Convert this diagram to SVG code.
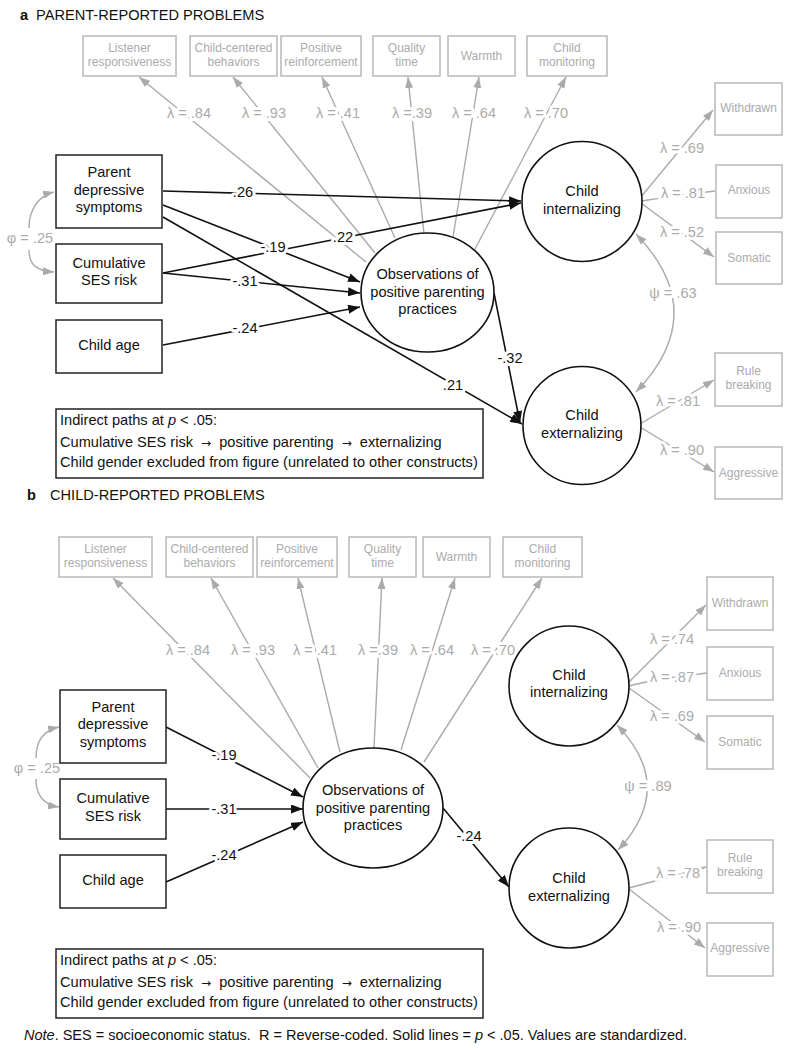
<svg xmlns="http://www.w3.org/2000/svg" width="791" height="1050" viewBox="0 0 791 1050">
<style>
text{font-family:"Liberation Sans",Arial,sans-serif}
.title{font-size:14.6px;fill:#111}
.gbox{fill:#fff;stroke:#b8b8b8;stroke-width:1.5}
.gtxt{font-size:12px;fill:#ababab;text-anchor:middle}
.glbl{font-size:14.6px;fill:#ababab;text-anchor:middle;stroke:#fff;stroke-width:6;paint-order:stroke;stroke-linejoin:round}
.bbox{fill:#fff;stroke:#222;stroke-width:1.5}
.lat{fill:#fff;stroke:#111;stroke-width:1.6}
.btxt{font-size:14.6px;fill:#111;text-anchor:middle}
.blbl{font-size:14.6px;fill:#111;text-anchor:middle;stroke:#fff;stroke-width:6;paint-order:stroke;stroke-linejoin:round}
.gl{stroke:#aaa;stroke-width:1.4;fill:none}
.bl{stroke:#111;stroke-width:1.6;fill:none}
.ind{font-size:14.6px;fill:#111}
.arr{font-size:12px;font-family:"DejaVu Sans",sans-serif}
</style>
<defs>
<marker id="ab" viewBox="0 0 12 9" refX="12" refY="4.5" markerWidth="12" markerHeight="9" orient="auto-start-reverse" markerUnits="userSpaceOnUse"><path d="M0,0 L12,4.5 L0,9 z" fill="#111"/></marker>
<marker id="ag" viewBox="0 0 11 8" refX="11" refY="4" markerWidth="11" markerHeight="8" orient="auto-start-reverse" markerUnits="userSpaceOnUse"><path d="M0,0 L11,4 L0,8 z" fill="#aaa"/></marker>
</defs>
<rect width="791" height="1050" fill="#fff"/>

<!-- ================= PANEL A ================= -->
<g id="title-a"><text x="20" y="20" class="title" font-weight="bold">a</text><text x="36" y="20" class="title">PARENT-REPORTED PROBLEMS</text></g>

<g id="connectors-a">
  <line class="gl" x1="366" y1="262" x2="139" y2="77" marker-end="url(#ag)"/>
  <line class="gl" x1="375" y1="253" x2="233" y2="77" marker-end="url(#ag)"/>
  <line class="gl" x1="395" y1="238" x2="322" y2="77" marker-end="url(#ag)"/>
  <line class="gl" x1="424" y1="234" x2="408" y2="77" marker-end="url(#ag)"/>
  <line class="gl" x1="453" y1="237" x2="479" y2="77" marker-end="url(#ag)"/>
  <line class="gl" x1="475" y1="249" x2="566" y2="77" marker-end="url(#ag)"/>
  <line class="gl" x1="640" y1="198" x2="713" y2="110" marker-end="url(#ag)"/>
  <path class="gl" d="M642,201 Q665,197 715,191"/>
  <line class="gl" x1="641" y1="203" x2="714" y2="257" marker-end="url(#ag)"/>
  <path class="gl" d="M636,234 Q712,313 636,392" marker-start="url(#ag)" marker-end="url(#ag)"/>
  <line class="gl" x1="640" y1="424" x2="714" y2="380" marker-end="url(#ag)"/>
  <line class="gl" x1="640" y1="427" x2="714" y2="472" marker-end="url(#ag)"/>
  <path class="gl" d="M29,228 C29,210 38,196 54,192" marker-end="url(#ag)"/>
  <path class="gl" d="M29,250 C29,266 38,271 54,272" marker-end="url(#ag)"/>
  <line class="bl" x1="163" y1="191" x2="521" y2="201" marker-end="url(#ab)"/>
  <line class="bl" x1="163" y1="273" x2="521" y2="203" marker-end="url(#ab)"/>
  <line class="bl" x1="163" y1="205" x2="360" y2="282" marker-end="url(#ab)"/>
  <line class="bl" x1="163" y1="273" x2="360" y2="293" marker-end="url(#ab)"/>
  <line class="bl" x1="163" y1="345" x2="360" y2="307" marker-end="url(#ab)"/>
  <line class="bl" x1="163" y1="217" x2="522" y2="424" marker-end="url(#ab)"/>
  <line class="bl" x1="494" y1="293" x2="520" y2="423" marker-end="url(#ab)"/>
  <text class="glbl" x="189" y="118">λ = .84</text>
  <text class="glbl" x="264" y="118">λ = .93</text>
  <text class="glbl" x="338" y="118">λ = .41</text>
  <text class="glbl" x="412" y="118">λ =.39</text>
  <text class="glbl" x="474" y="118">λ = .64</text>
  <text class="glbl" x="546" y="118">λ = .70</text>
  <text class="glbl" x="682" y="153">λ = .69</text>
  <text class="glbl" x="683" y="198">λ = .81</text>
  <text class="glbl" x="682" y="237">λ = .52</text>
  <text class="glbl" x="673" y="298">ψ = .63</text>
  <text class="glbl" x="678" y="406">λ = .81</text>
  <text class="glbl" x="682" y="455">λ = .90</text>
  <text class="glbl" x="30" y="243">φ = .25</text>
  <text class="blbl" x="243" y="197">.26</text>
  <text class="blbl" x="343" y="242">.22</text>
  <text class="blbl" x="273" y="252">-.19</text>
  <text class="blbl" x="245" y="286">-.31</text>
  <text class="blbl" x="245" y="333">-.24</text>
  <text class="blbl" x="453" y="390">.21</text>
  <text class="blbl" x="510" y="363">-.32</text>
</g>

<g id="a-ind-listener"><rect class="gbox" x="83" y="36" width="93" height="40"/><text class="gtxt" x="129.5" y="52">Listener</text><text class="gtxt" x="129.5" y="66">responsiveness</text></g>
<g id="a-ind-childcentered"><rect class="gbox" x="190" y="36" width="87" height="40"/><text class="gtxt" x="233.5" y="52">Child-centered</text><text class="gtxt" x="233.5" y="66">behaviors</text></g>
<g id="a-ind-posreinf"><rect class="gbox" x="281" y="36" width="80" height="40"/><text class="gtxt" x="321" y="52">Positive</text><text class="gtxt" x="321" y="66">reinforcement</text></g>
<g id="a-ind-quality"><rect class="gbox" x="373" y="36" width="67" height="40"/><text class="gtxt" x="406.5" y="52">Quality</text><text class="gtxt" x="406.5" y="66">time</text></g>
<g id="a-ind-warmth"><rect class="gbox" x="448" y="36" width="67" height="40"/><text class="gtxt" x="481.5" y="60">Warmth</text></g>
<g id="a-ind-monitoring"><rect class="gbox" x="527" y="36" width="80" height="40"/><text class="gtxt" x="567" y="52">Child</text><text class="gtxt" x="567" y="66">monitoring</text></g>

<g id="a-ind-withdrawn"><rect class="gbox" x="715" y="83" width="67" height="52"/><text class="gtxt" x="748.5" y="112">Withdrawn</text></g>
<g id="a-ind-anxious"><rect class="gbox" x="716" y="165" width="66" height="53"/><text class="gtxt" x="749" y="194">Anxious</text></g>
<g id="a-ind-somatic"><rect class="gbox" x="716" y="232" width="66" height="52"/><text class="gtxt" x="749" y="262">Somatic</text></g>
<g id="a-ind-rule"><rect class="gbox" x="715" y="353" width="67" height="53"/><text class="gtxt" x="748.5" y="375">Rule</text><text class="gtxt" x="748.5" y="389">breaking</text></g>
<g id="a-ind-aggressive"><rect class="gbox" x="715" y="447" width="67" height="52"/><text class="gtxt" x="748.5" y="477">Aggressive</text></g>

<g id="a-parent-dep"><rect class="bbox" x="56" y="155" width="106" height="73"/><text class="btxt" x="109" y="177">Parent</text><text class="btxt" x="109" y="195">depressive</text><text class="btxt" x="109" y="212">symptoms</text></g>
<g id="a-ses"><rect class="bbox" x="56" y="244" width="106" height="59"/><text class="btxt" x="109" y="268">Cumulative</text><text class="btxt" x="109" y="285">SES risk</text></g>
<g id="a-age"><rect class="bbox" x="56" y="320" width="106" height="53"/><text class="btxt" x="109" y="350">Child age</text></g>

<g id="a-parenting"><ellipse class="lat" cx="427.5" cy="292.5" rx="66.5" ry="59.5"/><text class="btxt" x="427.5" y="279">Observations of</text><text class="btxt" x="427.5" y="297">positive parenting</text><text class="btxt" x="427.5" y="314">practices</text></g>
<g id="a-internalizing"><circle class="lat" cx="582" cy="201.5" r="60"/><text class="btxt" x="582" y="196">Child</text><text class="btxt" x="582" y="214">internalizing</text></g>
<g id="a-externalizing"><circle class="lat" cx="582" cy="425.5" r="59"/><text class="btxt" x="582" y="420">Child</text><text class="btxt" x="582" y="438">externalizing</text></g>

<g id="a-indirect"><rect fill="#fff" stroke="#222" stroke-width="1.5" x="56" y="409" width="427" height="69"/>
<text class="ind" x="60" y="425">Indirect paths at <tspan font-style="italic">p</tspan> &lt; .05:</text>
<text class="ind" x="60" y="447">Cumulative SES risk <tspan class="arr" dx="4">→</tspan> <tspan dx="4">positive parenting</tspan> <tspan class="arr" dx="4">→</tspan> <tspan dx="4">externalizing</tspan></text>
<text class="ind" x="60" y="467">Child gender excluded from figure (unrelated to other constructs)</text></g>

<!-- ================= PANEL B ================= -->
<g id="title-b"><text x="27" y="500" class="title" font-weight="bold">b</text><text x="50" y="500" class="title">CHILD-REPORTED PROBLEMS</text></g>

<g id="connectors-b">
  <line class="gl" x1="310" y1="778" x2="113" y2="578" marker-end="url(#ag)"/>
  <line class="gl" x1="318" y1="768" x2="211" y2="578" marker-end="url(#ag)"/>
  <line class="gl" x1="340" y1="752" x2="298" y2="578" marker-end="url(#ag)"/>
  <line class="gl" x1="374" y1="748" x2="382" y2="578" marker-end="url(#ag)"/>
  <line class="gl" x1="401" y1="750" x2="455" y2="578" marker-end="url(#ag)"/>
  <line class="gl" x1="424" y1="762" x2="542" y2="578" marker-end="url(#ag)"/>
  <line class="gl" x1="628" y1="683" x2="706" y2="605" marker-end="url(#ag)"/>
  <path class="gl" d="M629,686 Q650,680 707,673"/>
  <line class="gl" x1="629" y1="688" x2="705" y2="742" marker-end="url(#ag)"/>
  <path class="gl" d="M617,725 Q677,787 618,850" marker-start="url(#ag)" marker-end="url(#ag)"/>
  <line class="gl" x1="629" y1="888" x2="706" y2="867" marker-end="url(#ag)"/>
  <line class="gl" x1="629" y1="889" x2="705" y2="948" marker-end="url(#ag)"/>
  <path class="gl" d="M36,758 C36,740 45,730 59,727" marker-end="url(#ag)"/>
  <path class="gl" d="M36,779 C36,796 45,805 59,807" marker-end="url(#ag)"/>
  <line class="bl" x1="166" y1="727" x2="303" y2="797" marker-end="url(#ab)"/>
  <line class="bl" x1="166" y1="809" x2="303" y2="809" marker-end="url(#ab)"/>
  <line class="bl" x1="166" y1="882" x2="303" y2="822" marker-end="url(#ab)"/>
  <line class="bl" x1="443" y1="808" x2="509" y2="887" marker-end="url(#ab)"/>
  <text class="glbl" x="188" y="655">λ = .84</text>
  <text class="glbl" x="253" y="655">λ = .93</text>
  <text class="glbl" x="315" y="655">λ = .41</text>
  <text class="glbl" x="378" y="655">λ =.39</text>
  <text class="glbl" x="432" y="655">λ = .64</text>
  <text class="glbl" x="493" y="655">λ = .70</text>
  <text class="glbl" x="672" y="644">λ = .74</text>
  <text class="glbl" x="672" y="682">λ = .87</text>
  <text class="glbl" x="672" y="721">λ = .69</text>
  <text class="glbl" x="648" y="791">ψ = .89</text>
  <text class="glbl" x="678" y="878">λ = .78</text>
  <text class="glbl" x="679" y="932">λ = .90</text>
  <text class="glbl" x="37" y="773">φ = .25</text>
  <text class="blbl" x="224" y="760">-.19</text>
  <text class="blbl" x="224" y="814">-.31</text>
  <text class="blbl" x="224" y="860">-.24</text>
  <text class="blbl" x="469" y="841">-.24</text>
</g>

<g id="b-ind-listener"><rect class="gbox" x="59" y="537" width="93" height="40"/><text class="gtxt" x="105.5" y="553">Listener</text><text class="gtxt" x="105.5" y="567">responsiveness</text></g>
<g id="b-ind-childcentered"><rect class="gbox" x="166" y="537" width="87" height="40"/><text class="gtxt" x="209.5" y="553">Child-centered</text><text class="gtxt" x="209.5" y="567">behaviors</text></g>
<g id="b-ind-posreinf"><rect class="gbox" x="257" y="537" width="80" height="40"/><text class="gtxt" x="297" y="553">Positive</text><text class="gtxt" x="297" y="567">reinforcement</text></g>
<g id="b-ind-quality"><rect class="gbox" x="349" y="537" width="67" height="40"/><text class="gtxt" x="382.5" y="553">Quality</text><text class="gtxt" x="382.5" y="567">time</text></g>
<g id="b-ind-warmth"><rect class="gbox" x="423" y="537" width="67" height="40"/><text class="gtxt" x="456.5" y="561">Warmth</text></g>
<g id="b-ind-monitoring"><rect class="gbox" x="503" y="537" width="79" height="40"/><text class="gtxt" x="542.5" y="553">Child</text><text class="gtxt" x="542.5" y="567">monitoring</text></g>

<g id="b-ind-withdrawn"><rect class="gbox" x="707" y="577" width="66" height="53"/><text class="gtxt" x="740" y="607">Withdrawn</text></g>
<g id="b-ind-anxious"><rect class="gbox" x="707" y="647" width="66" height="53"/><text class="gtxt" x="740" y="677">Anxious</text></g>
<g id="b-ind-somatic"><rect class="gbox" x="707" y="716" width="66" height="53"/><text class="gtxt" x="740" y="746">Somatic</text></g>
<g id="b-ind-rule"><rect class="gbox" x="707" y="840" width="66" height="53"/><text class="gtxt" x="740" y="862">Rule</text><text class="gtxt" x="740" y="876">breaking</text></g>
<g id="b-ind-aggressive"><rect class="gbox" x="707" y="923" width="66" height="53"/><text class="gtxt" x="740" y="952">Aggressive</text></g>

<g id="b-parent-dep"><rect class="bbox" x="60" y="690" width="106" height="73"/><text class="btxt" x="113" y="712">Parent</text><text class="btxt" x="113" y="729">depressive</text><text class="btxt" x="113" y="747">symptoms</text></g>
<g id="b-ses"><rect class="bbox" x="60" y="779" width="106" height="60"/><text class="btxt" x="113" y="803">Cumulative</text><text class="btxt" x="113" y="821">SES risk</text></g>
<g id="b-age"><rect class="bbox" x="60" y="855" width="106" height="53"/><text class="btxt" x="113" y="885">Child age</text></g>

<g id="b-parenting"><ellipse class="lat" cx="373" cy="808" rx="70" ry="60"/><text class="btxt" x="373" y="795">Observations of</text><text class="btxt" x="373" y="813">positive parenting</text><text class="btxt" x="373" y="830">practices</text></g>
<g id="b-internalizing"><circle class="lat" cx="569" cy="686" r="60"/><text class="btxt" x="569" y="680">Child</text><text class="btxt" x="569" y="697">internalizing</text></g>
<g id="b-externalizing"><circle class="lat" cx="569" cy="888" r="60"/><text class="btxt" x="569" y="883">Child</text><text class="btxt" x="569" y="901">externalizing</text></g>

<g id="b-indirect"><rect fill="#fff" stroke="#222" stroke-width="1.5" x="56" y="949" width="427" height="69"/>
<text class="ind" x="60" y="965">Indirect paths at <tspan font-style="italic">p</tspan> &lt; .05:</text>
<text class="ind" x="60" y="987">Cumulative SES risk <tspan class="arr" dx="4">→</tspan> <tspan dx="4">positive parenting</tspan> <tspan class="arr" dx="4">→</tspan> <tspan dx="4">externalizing</tspan></text>
<text class="ind" x="60" y="1007">Child gender excluded from figure (unrelated to other constructs)</text></g>

<g id="note"><text x="24" y="1040" font-size="14.5" fill="#111"><tspan font-style="italic">Note</tspan>. SES = socioeconomic status.&#160; R = Reverse-coded. Solid lines = <tspan font-style="italic">p</tspan> &lt; .05. Values are standardized.</text></g>
</svg>
